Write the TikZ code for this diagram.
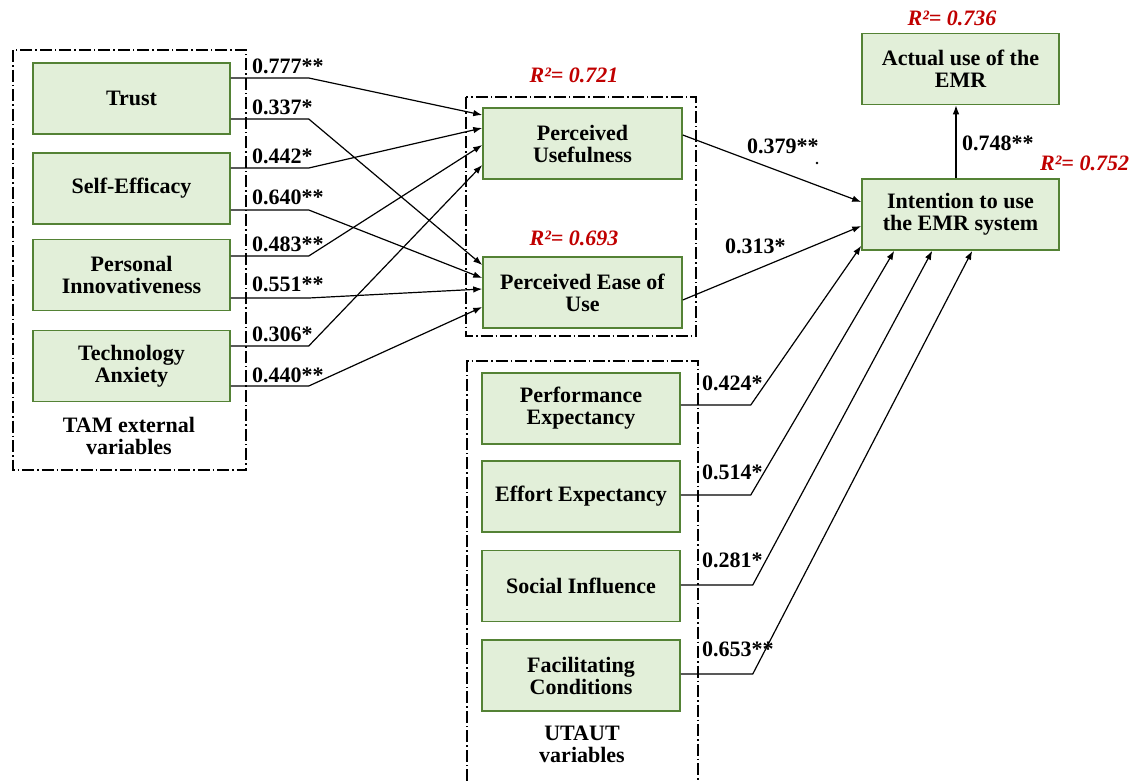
\documentclass[tikz,border=0pt]{standalone}
\usepackage{fontspec}
\setmainfont{Liberation Serif}
\usetikzlibrary{arrows.meta,calc}
\definecolor{boxfill}{HTML}{E2EFD9}
\definecolor{boxline}{HTML}{548235}
\definecolor{rsq}{HTML}{C00000}
\begin{document}
\begin{tikzpicture}[x=1pt,y=-1pt,
  var/.style={draw=boxline, fill=boxfill, line width=1.5pt, minimum width=197pt, minimum height=71pt, align=center, font=\fontsize{22}{22}\selectfont\bfseries, inner sep=2pt},
  grp/.style={draw=black, line width=1.3pt, dash pattern=on 12pt off 3pt on 1.5pt off 3pt},
  arr/.style={draw, line width=1.2pt, -{Latex[length=9pt,width=6.5pt]}},
  coef/.style={font=\fontsize{22}{22}\selectfont\bfseries, anchor=west, inner sep=0pt},
  rlab/.style={text=rsq, font=\fontsize{22}{22}\selectfont\bfseries\itshape, inner sep=0pt},
  glab/.style={font=\fontsize{22}{22}\selectfont\bfseries, align=center, inner sep=0pt},
]
\useasboundingbox (0,0) rectangle (1145,780);

% groups
\draw[grp] (13,50) rectangle (246,470);
\draw[grp] (466,97) rectangle (696,336);
\draw[grp] (467,781) -- (467,361) -- (698,361) -- (698,781);

% TAM external variables
\node[var] (trust) at (131.5,98.5) {Trust};
\node[var] (se) at (131.5,188.5) {Self-Efficacy};
\node[var] (pi) at (131.5,275) {Personal\\Innovativeness};
\node[var] (ta) at (131.5,366) {Technology\\Anxiety};
\node[glab] (tamlab) at (129,436) {TAM external\\variables};

% TAM core
\node[var, minimum width=199pt] (pu) at (582.5,143.5) {Perceived\\Usefulness};
\node[var, minimum width=199pt] (peou) at (582.5,292.5) {Perceived Ease of\\Use};
\node[rlab] (r1) at (574,75) {R²= 0.721};
\node[rlab] (r2) at (574,238) {R²= 0.693};

% outcome
\node[var] (act) at (960.5,69) {Actual use of the\\EMR};
\node[var] (int) at (960.5,214.5) {Intention to use\\the EMR system};
\node[rlab] (r3) at (952,18) {R²= 0.736};
\node[rlab, anchor=west] (r4) at (1040,163) {R²= 0.752};

% UTAUT
\node[var, minimum width=198pt] (pe) at (581,408.5) {Performance\\Expectancy};
\node[var, minimum width=198pt] (ee) at (581,496.5) {Effort Expectancy};
\node[var, minimum width=198pt] (si) at (581,586) {Social Influence};
\node[var, minimum width=198pt] (fc) at (581,675.5) {Facilitating\\Conditions};
\node[glab] (utlab) at (582,744) {UTAUT\\variables};

% TAM external -> PU / PEOU
\draw[arr] ([yshift=20.5pt]trust.east) -- ++(78,0) -- ([yshift=28.5pt]pu.west);
\draw[arr] ([yshift=-20.5pt]trust.east) -- ++(78,0) -- ([yshift=27.5pt]peou.west);
\draw[arr] ([yshift=20.5pt]se.east) -- ++(78,0) -- ([yshift=15.5pt]pu.west);
\draw[arr] ([yshift=-21.5pt]se.east) -- ++(78,0) -- ([yshift=14.5pt]peou.west);
\draw[arr] ([yshift=19pt]pi.east) -- ++(78,0) -- ([yshift=-1.5pt]pu.west);
\draw[arr] ([yshift=-23pt]pi.east) -- ++(78,0) -- ([yshift=3.5pt]peou.west);
\draw[arr] ([yshift=20pt]ta.east) -- ++(78,0) -- ([yshift=-21.5pt]pu.west);
\draw[arr] ([yshift=-20pt]ta.east) -- ++(78,0) -- ([yshift=-14.5pt]peou.west);

\node[coef] (c1) at (252,66) {0.777**};
\node[coef] (c2) at (252,107) {0.337*};
\node[coef] (c3) at (252,156) {0.442*};
\node[coef] (c4) at (252,197) {0.640**};
\node[coef] (c5) at (252,244) {0.483**};
\node[coef] (c6) at (252,284) {0.551**};
\node[coef] (c7) at (252,334) {0.306*};
\node[coef] (c8) at (252,375) {0.440**};

% PU / PEOU -> Intention
\draw[arr] ([yshift=8.5pt]pu.east) -- ([yshift=12.5pt]int.west);
\draw[arr] ([yshift=-7.5pt]peou.east) -- ([yshift=-11.5pt]int.west);
\node[coef] (c9) at (747,146) {0.379**};
\coordinate (dot) at (817,163);
\fill (dot) circle (1.3pt);
\node[coef] (c10) at (725,246) {0.313*};

% Intention -> Actual use
\draw[arr] ([xshift=-4.5pt]int.north) -- ([xshift=-4.5pt]act.south);
\node[coef] (c11) at (962,143) {0.748**};

% UTAUT -> Intention
\draw[arr] ([yshift=3.5pt]pe.east) -- ++(70,0) -- ([yshift=5pt]int.south west);
\draw[arr] ([yshift=1.5pt]ee.east) -- ++(70,0) -- ([xshift=33pt]int.south west);
\draw[arr] ([yshift=1pt]si.east) -- ++(72,0) -- ([xshift=71pt]int.south west);
\draw[arr] ([yshift=1.5pt]fc.east) -- ++(72,0) -- ([xshift=111pt]int.south west);
\node[coef] (c12) at (702,383) {0.424*};
\node[coef] (c13) at (702,472) {0.514*};
\node[coef] (c14) at (702,560) {0.281*};
\node[coef] (c15) at (702,649) {0.653**};
\end{tikzpicture}
\end{document}
